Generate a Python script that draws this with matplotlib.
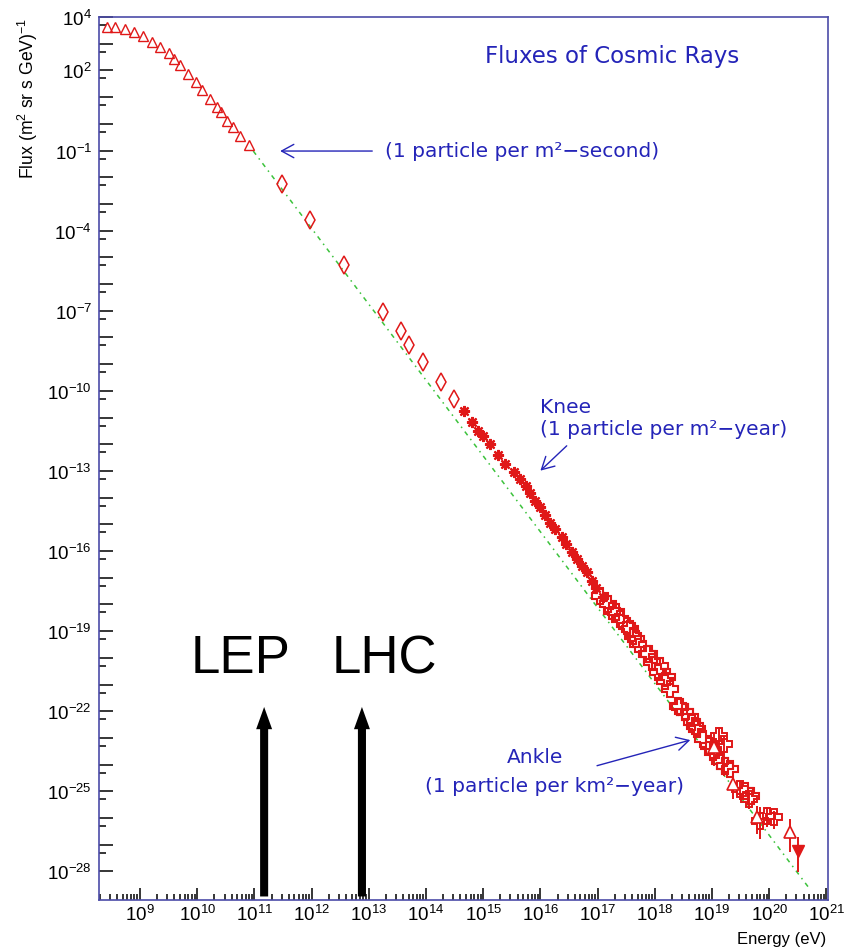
import numpy as np
import matplotlib
matplotlib.use("Agg")
import matplotlib.pyplot as plt
from matplotlib.ticker import FixedLocator, NullFormatter, FuncFormatter
from matplotlib.patches import ArrowStyle

plt.rcParams['font.family'] = ['Liberation Sans', 'DejaVu Sans']
plt.rcParams['mathtext.fontset'] = 'custom'
plt.rcParams['mathtext.rm'] = 'Liberation Sans'
plt.rcParams['mathtext.it'] = 'Liberation Sans:italic'
plt.rcParams['mathtext.bf'] = 'Liberation Sans:bold'

# all values below are log10(E / eV) and log10(flux / (m^2 sr s GeV)^-1)

# low energy direct measurements (open triangles)
tri_logE = [8.43, 8.56, 8.74, 8.90, 9.06, 9.21, 9.35, 9.51, 9.59, 9.70,
            9.84, 9.98, 10.08, 10.22, 10.34, 10.41, 10.52, 10.63, 10.74, 10.91]
tri_logF = [3.61, 3.61, 3.55, 3.43, 3.28, 3.08, 2.87, 2.64, 2.43, 2.20,
            1.87, 1.55, 1.28, 0.93, 0.62, 0.43, 0.12, -0.13, -0.45, -0.79]

# open diamonds
dia_logE = [11.48, 11.98, 12.57, 13.25, 13.56, 13.71, 13.95, 14.26, 14.49]
dia_logF = [-2.26, -3.59, -5.29, -7.06, -7.77, -8.29, -8.93, -9.68, -10.31]

# air shower data around the knee (asterisks)
ast_logE = [14.66, 14.80, 14.91, 15.00, 15.12, 15.26, 15.38, 15.53, 15.64, 15.75,
            15.82, 15.91, 15.99, 16.08, 16.17, 16.26, 16.37, 16.45, 16.55, 16.64,
            16.72, 16.81, 16.90, 16.98, 17.10]
ast_logF = [-10.75, -11.16, -11.49, -11.68, -11.99, -12.40, -12.74, -13.05, -13.30, -13.55,
            -13.83, -14.12, -14.36, -14.65, -14.95, -15.18, -15.49, -15.74, -16.05, -16.30,
            -16.55, -16.80, -17.11, -17.40, -17.73]

# ultra high energy data (open crosses)
crs_logE = [17.04, 17.18, 17.25, 17.33, 17.39, 17.51, 17.57, 17.62, 17.68, 17.71,
            17.86, 17.89, 17.95, 18.06, 18.09, 18.18, 18.21, 18.27, 18.41, 18.44,
            18.53, 18.62, 18.65, 18.70, 18.73, 18.85, 18.94, 19.02, 19.14, 19.23,
            19.32, 19.58, 19.69]
crs_logF = [-17.67, -17.99, -18.24, -18.30, -18.55, -18.80, -18.93, -19.17, -19.30, -19.49,
            -19.86, -19.86, -20.17, -20.53, -20.30, -20.86, -20.73, -21.16, -21.79, -21.85,
            -22.04, -22.23, -22.42, -22.54, -22.67, -23.04, -23.29, -23.54, -23.85, -24.04,
            -24.17, -24.98, -25.17]

# open crosses with error bars
crs_err_logE = [19.13, 19.21, 19.49, 19.64, 19.84, 19.96, 20.08]
crs_err_logF = [-22.92, -23.23, -24.91, -25.29, -26.10, -25.91, -25.97]
crs_err_hi = [-22.59, -22.92, -24.61, -25.03, -25.59, -25.59, -25.73]
crs_err_lo = [-23.78, -24.42, -25.34, -25.66, -26.79, -26.34, -26.42]

# open triangles with error bars
tri_err_logE = [19.04, 19.37, 19.78, 20.36]
tri_err_logF = [-23.35, -24.73, -25.97, -26.54]
tri_err_hi = [-22.85, -24.50, -25.54, -26.04]
tri_err_lo = [-24.04, -25.29, -26.60, -27.29]

# upper limit (filled down triangle)
lim_logE = [20.51]
lim_logF = [-27.23]
lim_hi = [-26.71]
lim_lo = [-28.03]

# power law guide line (end points)
fit_logE = [10.98, 20.71]
fit_logF = [-1.02, -28.66]

# collider equivalent energies
colliders = ["LEP", "LHC"]
collider_logE = [11.17, 12.88]
collider_text_logE = [10.75, 13.28]

red = '#e01818'
blue = '#2424b8'

fig = plt.figure(figsize=(8.57, 9.53), dpi=100)
ax = fig.add_axes([99 / 857, 1 - 901 / 953, 729 / 857, 883 / 953])
ax.set_xscale('log')
ax.set_yscale('log')
ax.set_xlim(10 ** 8.283, 10 ** 21.028)
ax.set_ylim(10 ** -29.07, 1e4)

p = lambda v: 10 ** np.asarray(v, dtype=float)

# guide line
ax.plot(p(fit_logE), p(fit_logF), color='#3cc23c', lw=1.1,
        linestyle=(0, (3, 3, 1, 3)), zorder=1)

ax.plot(p(tri_logE), p(tri_logF), ls='none', marker='^', ms=7.5,
        mfc='none', mec=red, mew=1.0, zorder=3)
ax.plot(p(dia_logE), p(dia_logF), ls='none', marker='d', ms=9,
        mfc='none', mec=red, mew=1.1, zorder=3)
ax.plot(p(ast_logE), p(ast_logF), ls='none', marker=(8, 2, 0), ms=8,
        mec=red, mew=1.6, zorder=3)
ax.plot(p(crs_logE), p(crs_logF), ls='none', marker='P', ms=11,
        mfc='none', mec=red, mew=1.5, zorder=3)


def with_errors(le, lf, hi, lo, **kw):
    y = p(lf)
    yerr = [y - p(lo), p(hi) - y]
    ax.errorbar(p(le), y, yerr=yerr, ls='none', ecolor=red, elinewidth=1.4,
                capsize=0, zorder=3, **kw)


with_errors(crs_err_logE, crs_err_logF, crs_err_hi, crs_err_lo,
            marker='P', ms=11, mfc='none', mec=red, mew=1.4)
with_errors(tri_err_logE, tri_err_logF, tri_err_hi, tri_err_lo,
            marker='^', ms=9, mfc='white', mec=red, mew=1.2)
with_errors(lim_logE, lim_logF, lim_hi, lim_lo,
            marker='v', ms=8, mfc=red, mec=red)

# axes styling
for s in ax.spines.values():
    s.set_color('#4c4ca8')
    s.set_linewidth(1.2)

ax.xaxis.set_major_locator(FixedLocator(p(range(9, 22))))
ax.xaxis.set_minor_locator(FixedLocator(
    [m * 10.0 ** n for n in range(8, 21) for m in range(2, 10)]))
ax.xaxis.set_major_formatter(FuncFormatter(
    lambda v, pos: r'$10^{%d}$' % round(np.log10(v))))
ax.xaxis.set_minor_formatter(NullFormatter())

y_labelled = [4, 2] + list(range(-1, -29, -3))
ax.yaxis.set_major_locator(FixedLocator(p(range(-28, 5))))
ax.yaxis.set_minor_locator(FixedLocator(p(np.arange(-28, 4)) * 5))
ax.yaxis.set_major_formatter(FuncFormatter(
    lambda v, pos: r'$10^{%d}$' % round(np.log10(v))
    if round(np.log10(v)) in y_labelled else ''))
ax.yaxis.set_minor_formatter(NullFormatter())

ax.tick_params(which='both', direction='in', color='black', width=1.1,
               labelsize=13.5, top=False, right=False)
ax.tick_params(axis='y', which='major', length=10, pad=5)
ax.tick_params(axis='y', which='minor', length=5)
ax.tick_params(axis='x', which='major', length=9, pad=3)
ax.tick_params(axis='x', which='minor', length=4.5)

fig.text(28 / 857, 1 - 18 / 953, r'Flux (m$^2$ sr s GeV)$^{-1}$', rotation=90,
         ha='center', va='top', fontsize=12.7)
fig.text(826 / 857, 1 - 940 / 953, 'Energy (eV)', ha='right', va='center',
         fontsize=12)

# blue annotations
tkw = dict(color=blue, fontsize=14.5, family=['DejaVu Sans'], va='center')
ax.text(p(15.03), p(2.54), 'Fluxes of Cosmic Rays', **dict(tkw, fontsize=16.5))
ax.text(p(13.28), p(-1.0), '(1 particle per m\u00b2\u2212second)', **tkw)
ax.text(p(15.99), p(-10.57), 'Knee', **tkw)
ax.text(p(15.99), p(-11.43), '(1 particle per m\u00b2\u2212year)', **tkw)
ax.text(p(15.42), p(-23.68), 'Ankle', **tkw)
ax.text(p(13.98), p(-24.80), '(1 particle per km\u00b2\u2212year)', **tkw)

akw = dict(arrowstyle=ArrowStyle('->', head_length=0.55, head_width=0.3),
           color=blue, lw=1.0, shrinkA=0, shrinkB=0, mutation_scale=16)
ax.annotate('', xy=(p(11.45), p(-1.02)), xytext=(p(13.06), p(-1.02)),
            arrowprops=akw)
ax.annotate('', xy=(p(16.00), p(-12.99)), xytext=(p(16.46), p(-12.06)),
            arrowprops=akw)
ax.annotate('', xy=(p(18.62), p(-23.08)), xytext=(p(16.99), p(-24.04)),
            arrowprops=akw)

# collider markers
for name, le, lt in zip(colliders, collider_logE, collider_text_logE):
    ax.annotate('', xy=(p(le), 0.2186), xytext=(p(le), 0.004),
                xycoords=('data', 'axes fraction'),
                textcoords=('data', 'axes fraction'),
                arrowprops=dict(arrowstyle=ArrowStyle('simple', head_length=1.6,
                                                      head_width=1.15, tail_width=0.58),
                                color='black', lw=0, shrinkA=0, shrinkB=0,
                                mutation_scale=10))
    ax.text(p(lt), 0.258, name, transform=ax.get_xaxis_transform(),
            ha='center', va='baseline', fontsize=38, color='black')

fig.savefig('out.png', dpi=100)
